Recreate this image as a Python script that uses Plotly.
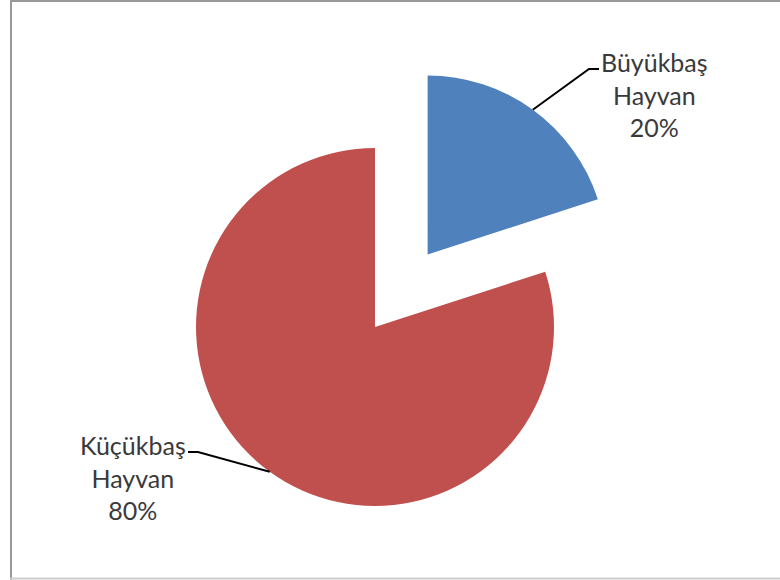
import math
import plotly.graph_objects as go

labels = ["Büyükbaş Hayvan", "Küçükbaş Hayvan"]
label_lines = ["Büyükbaş<br>Hayvan", "Küçükbaş<br>Hayvan"]
values = [20, 80]
colors = ["#4F81BD", "#C0504D"]

W, H = 780, 580
R = 179
# pie centre (px) and explode offset of first slice
CX, CY = 375, 327
PULL = 0.5

total = sum(values)
fracs = [v / total for v in values]
# mid angles (degrees clockwise from 12 o'clock)
starts = [sum(fracs[:i]) * 360 for i in range(len(fracs))]
mids = [starts[i] + fracs[i] * 180 for i in range(len(fracs))]

def px_dom(cx, cy, r):
    return dict(x=[(cx - r) / W, (cx + r) / W], y=[1 - (cy + r) / H, 1 - (cy - r) / H])

fig = go.Figure()
centres = []
for i in range(len(values)):
    pull_px = R * PULL if i == 0 else 0
    a = math.radians(mids[i])
    cx = CX + pull_px * math.sin(a)
    cy = CY - pull_px * math.cos(a)
    centres.append((cx, cy))
    cols = ["rgba(0,0,0,0)"] * len(values)
    cols[i] = colors[i]
    fig.add_trace(go.Pie(
        labels=labels, values=values, sort=False, direction="clockwise", rotation=0,
        marker=dict(colors=cols, line=dict(width=0)), textinfo="none", hoverinfo="skip",
        showlegend=False, domain=px_dom(cx, cy, R),
    ))

# label positions (px): centre of text block
text_pos = [(654, 94), (133, 477)]
shapes = []
annotations = []
for i in range(len(values)):
    cx, cy = centres[i]
    a = math.radians(mids[i])
    ex, ey = cx + R * math.sin(a), cy - R * math.cos(a)
    tx, ty = text_pos[i]
    if i == 0:
        kx, ky = 589, 69
        hx = 599
    else:
        kx, ky = 198, 452
        hx = 188
    path = f"M {ex/W},{1-ey/H} L {kx/W},{1-ky/H} L {hx/W},{1-ky/H}"
    shapes.append(dict(type="path", xref="paper", yref="paper", path=path,
                       line=dict(color="#000000", width=2)))
    annotations.append(dict(
        x=tx / W, y=1 - ty / H, xref="paper", yref="paper", xanchor="center", yanchor="middle",
        text=f"{label_lines[i]}<br>{values[i] / total * 100:.0f}%", showarrow=False, align="center",
        font=dict(family="Lato", size=25, color="#3a3a3a"),
    ))

# chart frame: left, top (dark) and bottom (light) edges
frame = [
    (11, 0, 11, 580, "#999999"),
    (10, 1, 780, 1, "#999999"),
    (10, 578.5, 780, 578.5, "#cccccc"),
]
for x0, y0, x1, y1, c in frame:
    shapes.append(dict(type="line", xref="paper", yref="paper",
                       x0=x0 / W, x1=x1 / W, y0=1 - y0 / H, y1=1 - y1 / H,
                       line=dict(color=c, width=2)))

fig.update_layout(
    width=W, height=H, margin=dict(l=0, r=0, t=0, b=0),
    paper_bgcolor="white", plot_bgcolor="white",
    shapes=shapes, annotations=annotations,
)
fig.write_html("out.html", config={"displayModeBar": False},
               post_script="document.body.style.margin='0';document.body.style.overflow='hidden';")
